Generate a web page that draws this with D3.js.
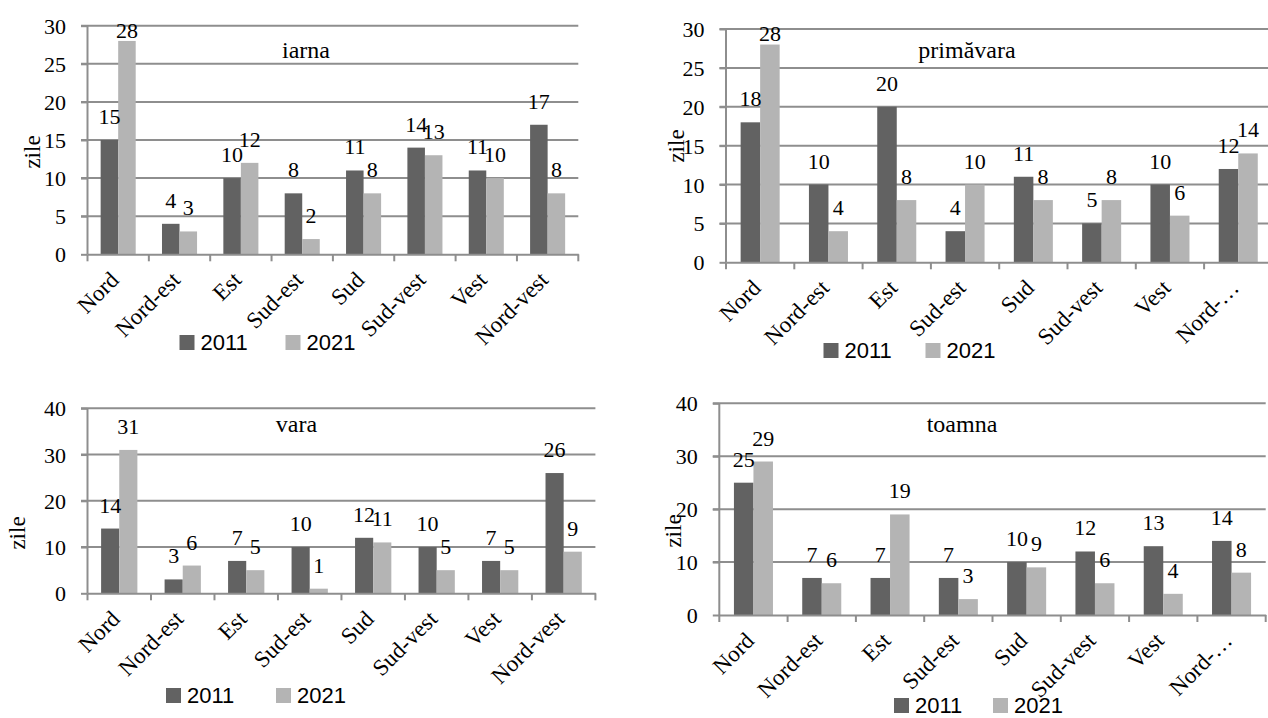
<!DOCTYPE html>
<html>
<head>
<meta charset="utf-8">
<script src="https://cdn.jsdelivr.net/npm/d3@7"></script>
<style>
  html, body { margin: 0; padding: 0; background: #fff; }
  svg { display: block; }
  .serif { font-family: "Liberation Serif", "Times New Roman", serif; fill: #000; }
  .sans { font-family: "Liberation Sans", Arial, sans-serif; fill: #000; }
</style>
</head>
<body>
<svg id="chart" width="1268" height="718"></svg>
<script>
// Directions of the wind, number of days per season
const categories = ["Nord", "Nord-est", "Est", "Sud-est", "Sud", "Sud-vest", "Vest", "Nord-vest"];
const categoriesCut = ["Nord", "Nord-est", "Est", "Sud-est", "Sud", "Sud-vest", "Vest", "Nord-…"];
const years = ["2011", "2021"];

const iarna2011 = [15, 4, 10, 8, 11, 14, 11, 17];
const iarna2021 = [28, 3, 12, 2, 8, 13, 10, 8];

const primavara2011 = [18, 10, 20, 4, 11, 5, 10, 12];
const primavara2021 = [28, 4, 8, 10, 8, 8, 6, 14];

const vara2011 = [14, 3, 7, 10, 12, 10, 7, 26];
const vara2021 = [31, 6, 5, 1, 11, 5, 5, 9];

const toamna2011 = [25, 7, 7, 7, 10, 12, 13, 14];
const toamna2021 = [29, 6, 19, 3, 9, 6, 4, 8];

const ticks30 = [0, 5, 10, 15, 20, 25, 30];
const ticks40 = [0, 10, 20, 30, 40];

const colors = { "2011": "#626262", "2021": "#b4b4b4" };
const gridColor = "#8e8e8e";

const svg = d3.select("#chart");

// Layout of the four season panels
const panels = [
  { title: "iarna", cats: categories, a: iarna2011, b: iarna2021, max: 30, ticks: ticks30,
    x0: 87.5, x1: 578.3, y0: 254.3, yTop: 25.7, titleX: 306, titleY: 58,
    zileX: 40, zileY: 152, legX: 179.5, legX2: 285.5, legY: 350 },
  { title: "primăvara", cats: categoriesCut, a: primavara2011, b: primavara2021, max: 30, ticks: ticks30,
    x0: 726, x1: 1272.4, y0: 262.3, yTop: 29, titleX: 967, titleY: 58,
    zileX: 684, zileY: 146, legX: 823.5, legX2: 925.5, legY: 358 },
  { title: "vara", cats: categories, a: vara2011, b: vara2021, max: 40, ticks: ticks40,
    x0: 87.5, x1: 595.4, y0: 593.3, yTop: 408.3, titleX: 296.5, titleY: 431.7,
    zileX: 25, zileY: 533, legX: 166, legX2: 276, legY: 703 },
  { title: "toamna", cats: categoriesCut, a: toamna2011, b: toamna2021, max: 40, ticks: ticks40,
    x0: 719.3, x1: 1265.7, y0: 615, yTop: 403.3, titleX: 962, titleY: 431.7,
    zileX: 681, zileY: 531, legX: 894, legX2: 993, legY: 713 }
];

panels.forEach(p => {
  const g = svg.append("g");

  const x = d3.scaleBand().domain(p.cats).range([p.x0, p.x1]).paddingInner(0).paddingOuter(0);
  const bw = x.bandwidth();
  const barW = bw / 3.5;
  const xs = d3.scaleBand().domain(years).range([(bw - 2 * barW) / 2, (bw + 2 * barW) / 2]);
  const y = d3.scaleLinear().domain([0, p.max]).range([p.y0, p.yTop]);

  // horizontal gridlines (with the outward tick on the left)
  g.append("g").selectAll("line").data(p.ticks.filter(t => t > 0)).join("line")
    .attr("x1", p.x0 - 6.5).attr("x2", p.x1)
    .attr("y1", d => y(d)).attr("y2", d => y(d))
    .attr("stroke", gridColor).attr("stroke-width", 2);

  // y axis
  const yAxis = d3.axisLeft(y).tickValues(p.ticks).tickSize(6.5).tickPadding(15).tickFormat(d3.format("d"));
  const ya = g.append("g").attr("transform", `translate(${p.x0},0)`).call(yAxis);
  ya.attr("font-family", null).attr("font-size", null);
  ya.select(".domain").attr("stroke", gridColor).attr("stroke-width", 2)
    .attr("d", `M0,${p.yTop}V${p.y0}`);
  ya.selectAll(".tick line").attr("stroke", gridColor).attr("stroke-width", 2);
  ya.selectAll(".tick text").attr("class", "serif").style("font-size", "22px").attr("dy", "0.34em");

  // bars
  const rows = p.cats.map((c, i) => ({ cat: c, vals: [{ k: "2011", v: p.a[i] }, { k: "2021", v: p.b[i] }] }));
  const grp = g.append("g").selectAll("g").data(rows).join("g")
    .attr("transform", d => `translate(${x(d.cat)},0)`);
  grp.selectAll("rect").data(d => d.vals).join("rect")
    .attr("x", d => xs(d.k)).attr("width", xs.bandwidth())
    .attr("y", d => y(d.v)).attr("height", d => p.y0 - y(d.v))
    .attr("fill", d => colors[d.k]);

  // value labels
  grp.selectAll("text").data(d => d.vals).join("text")
    .attr("class", "serif").style("font-size", "22px")
    .attr("text-anchor", "middle")
    .attr("x", d => xs(d.k) + xs.bandwidth() / 2)
    .attr("y", d => Math.max(y(d.v) - 16, p.yTop + 12))
    .text(d => d.v);

  // x axis
  const xAxis = d3.axisBottom(x).tickSize(0).tickFormat(() => "");
  const xa = g.append("g").attr("transform", `translate(0,${p.y0})`).call(xAxis);
  xa.select(".domain").attr("stroke", gridColor).attr("stroke-width", 2);
  const bounds = p.cats.map(c => x(c)).concat([p.x1]);
  g.append("g").selectAll("line").data(bounds).join("line")
    .attr("x1", d => d).attr("x2", d => d)
    .attr("y1", p.y0).attr("y2", p.y0 + 7)
    .attr("stroke", gridColor).attr("stroke-width", 2);
  g.append("g").selectAll("text").data(p.cats).join("text")
    .attr("class", "serif").style("font-size", "23px")
    .attr("text-anchor", "end")
    .attr("transform", d => `translate(${x(d) + bw / 2 + 2},${p.y0 + 27}) rotate(-45)`)
    .text(d => d);

  // title
  g.append("text").attr("class", "serif").style("font-size", "24px")
    .attr("text-anchor", "middle").attr("x", p.titleX).attr("y", p.titleY).text(p.title);

  // y axis title
  g.append("text").attr("class", "serif").style("font-size", "23px")
    .attr("text-anchor", "middle")
    .attr("transform", `translate(${p.zileX},${p.zileY}) rotate(-90)`)
    .text("zile");

  // legend
  const leg = g.append("g");
  [[years[0], p.legX], [years[1], p.legX2]].forEach(([k, lx]) => {
    leg.append("rect").attr("x", lx).attr("y", p.legY - 15).attr("width", 15).attr("height", 15)
      .attr("fill", colors[k]);
    leg.append("text").attr("class", "sans").style("font-size", "22px")
      .attr("x", lx + 21).attr("y", p.legY).text(k);
  });
});
</script>
</body>
</html>
